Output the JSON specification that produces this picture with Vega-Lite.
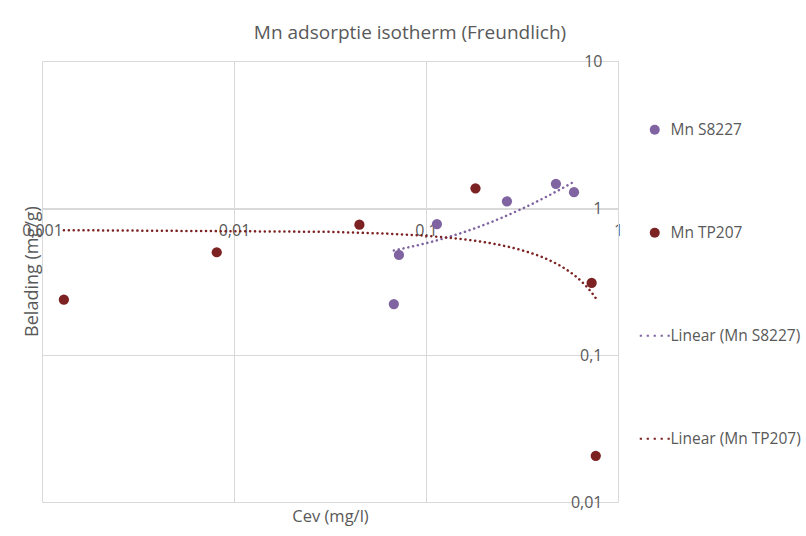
{
  "$schema": "https://vega.github.io/schema/vega-lite/v6.json",
  "width": 576,
  "height": 441,
  "autosize": "none",
  "padding": {"left": 42, "top": 61, "right": 188, "bottom": 34},
  "background": "white",
  "config": {"view": {"stroke": null}, "font": "Open Sans"},
  "title": {"text": "Mn adsorptie isotherm (Freundlich)", "anchor": "middle", "dx": 80, "fontSize": 19, "font": "Open Sans", "fontWeight": "normal", "color": "#595959", "offset": 10},
  "data": {"values": [
    {"serie": "Mn S8227", "cev": 0.0723, "q": 0.479},
    {"serie": "Mn S8227", "cev": 0.068, "q": 0.222},
    {"serie": "Mn S8227", "cev": 0.114, "q": 0.778},
    {"serie": "Mn S8227", "cev": 0.264, "q": 1.11},
    {"serie": "Mn S8227", "cev": 0.475, "q": 1.46},
    {"serie": "Mn S8227", "cev": 0.59, "q": 1.28},
    {"serie": "Mn TP207", "cev": 0.0013, "q": 0.238},
    {"serie": "Mn TP207", "cev": 0.00813, "q": 0.5},
    {"serie": "Mn TP207", "cev": 0.045, "q": 0.77},
    {"serie": "Mn TP207", "cev": 0.181, "q": 1.36},
    {"serie": "Mn TP207", "cev": 0.729, "q": 0.309},
    {"serie": "Mn TP207", "cev": 0.766, "q": 0.0206}
  ]},
  "layer": [
    {
      "mark": {"type": "point", "filled": true, "size": 105, "opacity": 1},
      "encoding": {
        "x": {"field": "cev", "type": "quantitative",
          "scale": {"type": "log", "domain": [0.001, 1], "nice": false},
          "axis": {"title": "Cev (mg/l)", "orient": "bottom", "offset": -293,
            "values": [0.001, 0.01, 0.1, 1],
            "labelExpr": "replace(toString(datum.value), '.', ',')",
            "grid": true, "gridColor": "#d9d9d9", "domainColor": "#d9d9d9", "ticks": false,
            "labelPadding": 13, "labelFontSize": 16, "labelColor": "#595959", "labelFont": "Open Sans",
            "labelFlush": false, "labelOverlap": false,
            "titleFont": "Open Sans", "titleFontSize": 16.5, "titleFontWeight": "normal", "titleColor": "#595959",
            "titleY": 307, "titleBaseline": "middle"}},
        "y": {"field": "q", "type": "quantitative",
          "scale": {"type": "log", "domain": [0.01, 10], "nice": false},
          "axis": {"title": "Belading (mg/g)", "orient": "left", "offset": -576,
            "values": [0.01, 0.1, 1, 10],
            "labelExpr": "replace(toString(datum.value), '.', ',')",
            "grid": true, "gridColor": "#d9d9d9", "domainColor": "#d9d9d9", "ticks": false,
            "labelPadding": 16, "labelFontSize": 16, "labelColor": "#595959", "labelFont": "Open Sans",
            "labelFlush": false, "labelOverlap": false,
            "titleFont": "Open Sans", "titleFontSize": 18, "titleFontWeight": "normal", "titleColor": "#595959",
            "titleX": -586, "titleY": 210, "titleBaseline": "middle", "titleAngle": -90}},
        "color": {"field": "serie", "type": "nominal",
          "scale": {"domain": ["Mn S8227", "Mn TP207", "Linear (Mn S8227)", "Linear (Mn TP207)"],
                    "range": ["#8064a2", "#7c2222", "#8064a2", "#7c2222"]},
          "legend": {"orient": "none", "legendX": 605, "legendY": 61, "title": null,
            "labelFont": "Open Sans", "labelFontSize": 15.5, "labelColor": "#595959",
            "symbolSize": 100, "labelOffset": 8, "rowPadding": 86, "padding": 0, "symbolStrokeWidth": 0}},
        "shape": {"field": "serie", "type": "nominal",
          "scale": {"domain": ["Mn S8227", "Mn TP207", "Linear (Mn S8227)", "Linear (Mn TP207)"],
                    "range": ["circle", "circle",
                      "M-3,-0.22h0.44v0.44h-0.44zM-1.61,-0.22h0.44v0.44h-0.44zM-0.22,-0.22h0.44v0.44h-0.44zM1.17,-0.22h0.44v0.44h-0.44zM2.56,-0.22h0.44v0.44h-0.44z",
                      "M-3,-0.22h0.44v0.44h-0.44zM-1.61,-0.22h0.44v0.44h-0.44zM-0.22,-0.22h0.44v0.44h-0.44zM1.17,-0.22h0.44v0.44h-0.44zM2.56,-0.22h0.44v0.44h-0.44z"]}}
      }
    },
    {
      "transform": [{"regression": "q", "on": "cev", "groupby": ["serie"], "method": "poly", "order": 1}],
      "mark": {"type": "line", "strokeWidth": 2.5, "strokeDash": [0.1, 4.8], "strokeCap": "round"},
      "encoding": {
        "x": {"field": "cev", "type": "quantitative"},
        "y": {"field": "q", "type": "quantitative"},
        "detail": {"field": "serie"},
        "color": {"condition": {"test": "datum.serie === 'Mn S8227'", "value": "#8064a2"}, "value": "#7c2222"}
      }
    }
  ]
}
